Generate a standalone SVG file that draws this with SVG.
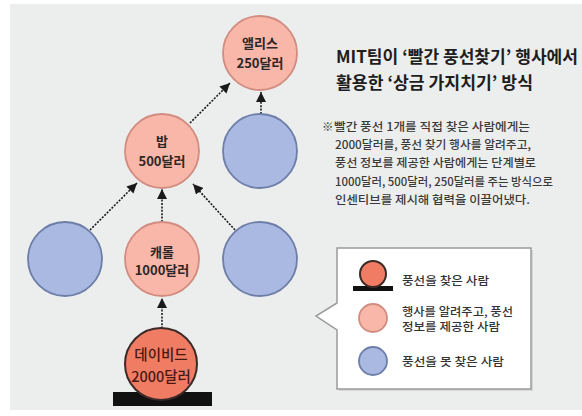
<svg xmlns="http://www.w3.org/2000/svg" width="582" height="416" viewBox="0 0 582 416">
<defs>
<marker id="ah" markerWidth="10" markerHeight="10" refX="10" refY="5" orient="auto" markerUnits="userSpaceOnUse">
<path d="M0,0 L10,5 L0,10 Z" fill="#1a1a1a"/>
</marker>
<style>
.kr{font-family:"Noto Sans CJK KR","Noto Sans",sans-serif;}
.pink{fill:#f8b7a8;stroke:#d28c80;stroke-width:1.8;}
.blue{fill:#aab9e2;stroke:#6d7ea8;stroke-width:1.8;}
.red{fill:#ef7c63;stroke:#3b2a27;stroke-width:2;}
.lbl{font-size:13px;font-weight:bold;fill:#2e2626;text-anchor:middle;}
.dlbl{font-size:14.5px;font-weight:500;fill:#4a1810;text-anchor:middle;}
.conn{stroke:#1a1a1a;stroke-width:1.6;stroke-dasharray:2 1.4;fill:none;marker-end:url(#ah);}
.note{font-size:11.5px;fill:#3a3a3a;font-weight:500;}
.leg{font-size:11px;fill:#333;font-weight:500;}
.title{font-size:17px;font-weight:bold;fill:#1e1e1e;}
</style>
</defs>
<rect x="0" y="0" width="582" height="416" fill="#ffffff"/>
<rect x="10" y="4" width="572" height="406" fill="#eceeed"/>

<g id="connectors">
<line class="conn" x1="162" y1="332" x2="162" y2="298"/>
<line class="conn" x1="162" y1="222" x2="162" y2="189"/>
<line class="conn" x1="90" y1="230" x2="137" y2="183"/>
<line class="conn" x1="235" y1="230" x2="193" y2="184"/>
<line class="conn" x1="190" y1="123" x2="230" y2="83"/>
<line class="conn" x1="261" y1="114" x2="261" y2="92"/>
</g>

<g id="alice">
<circle class="pink" cx="260" cy="53" r="37"/>
<text class="kr lbl" x="260" y="48">앨리스</text>
<text class="kr lbl" x="260" y="68">250달러</text>
</g>
<g id="blue-top">
<circle class="blue" cx="260" cy="151" r="37"/>
</g>
<g id="bob">
<circle class="pink" cx="162" cy="151" r="37"/>
<text class="kr lbl" x="162" y="146">밥</text>
<text class="kr lbl" x="162" y="166">500달러</text>
</g>
<g id="blue-left">
<circle class="blue" cx="65" cy="259" r="37"/>
</g>
<g id="carol">
<circle class="pink" cx="162" cy="259" r="37"/>
<text class="kr lbl" x="162" y="257">캐롤</text>
<text class="kr lbl" x="162" y="275">1000달러</text>
</g>
<g id="blue-right">
<circle class="blue" cx="260" cy="259" r="37"/>
</g>
<g id="david">
<rect x="113" y="392" width="99" height="14" fill="#111"/>
<circle class="red" cx="161" cy="364" r="36"/>
<text class="kr dlbl" x="161" y="360">데이비드</text>
<text class="kr dlbl" x="161" y="382">2000달러</text>
</g>

<g id="title">
<text class="kr title" x="336" y="63" textLength="242" lengthAdjust="spacingAndGlyphs">MIT팀이 ‘빨간 풍선찾기’ 행사에서</text>
<text class="kr title" x="336" y="89" textLength="197" lengthAdjust="spacingAndGlyphs">활용한 ‘상금 가지치기’ 방식</text>
</g>

<g id="note">
<text class="kr note" x="322" y="131" font-size="10">※</text>
<text class="kr note" x="334" y="131" textLength="196" lengthAdjust="spacingAndGlyphs">빨간 풍선 1개를 직접 찾은 사람에게는</text>
<text class="kr note" x="335" y="149" textLength="196" lengthAdjust="spacingAndGlyphs">2000달러를, 풍선 찾기 행사를 알려주고,</text>
<text class="kr note" x="335" y="167" textLength="201" lengthAdjust="spacingAndGlyphs">풍선 정보를 제공한 사람에게는 단계별로</text>
<text class="kr note" x="335" y="186" textLength="218" lengthAdjust="spacingAndGlyphs">1000달러, 500달러, 250달러를 주는 방식으로</text>
<text class="kr note" x="335" y="204" textLength="195" lengthAdjust="spacingAndGlyphs">인센티브를 제시해 협력을 이끌어냈다.</text>
</g>

<g id="legend">
<path d="M339,250 H533 V391 H339 V332 L318,318 L339,305 Z" fill="#c8c9c9" opacity="0.6"/>
<path d="M337,248 H531 V389 H337 V330 L316,316 L337,303 Z" fill="#ffffff" stroke="#9b9b9b" stroke-width="1.5"/>
<rect x="353" y="286" width="40" height="5" fill="#111"/>
<circle class="red" cx="373" cy="274" r="13"/>
<text class="kr leg" x="402" y="285" textLength="87" lengthAdjust="spacingAndGlyphs">풍선을 찾은 사람</text>
<circle class="pink" cx="373" cy="318" r="14"/>
<text class="kr leg" x="402" y="316" textLength="111" lengthAdjust="spacingAndGlyphs">행사를 알려주고, 풍선</text>
<text class="kr leg" x="402" y="331" textLength="98" lengthAdjust="spacingAndGlyphs">정보를 제공한 사람</text>
<circle class="blue" cx="373" cy="361" r="14"/>
<text class="kr leg" x="402" y="366" textLength="102" lengthAdjust="spacingAndGlyphs">풍선을 못 찾은 사람</text>
</g>
</svg>
